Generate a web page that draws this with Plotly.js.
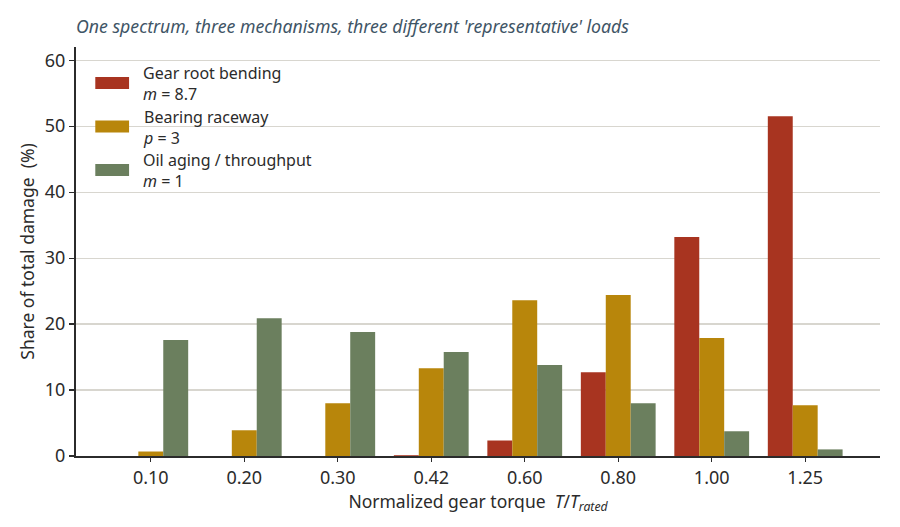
<!DOCTYPE html>
<html>
<head>
<meta charset="utf-8">
<script src="https://cdn.plot.ly/plotly-3.0.1.min.js"></script>
<style>html,body{margin:0;padding:0;background:#fff}#chart{width:900px;height:527px}</style>
</head>
<body>
<div id="chart"></div>
<script>
// Data
const torqueLevels = ['0.10', '0.20', '0.30', '0.42', '0.60', '0.80', '1.00', '1.25'];
const gearRootBending = [0.0, 0.0, 0.0, 0.12, 2.35, 12.7, 33.2, 51.5];
const bearingRaceway = [0.68, 3.9, 8.0, 13.3, 23.6, 24.4, 17.9, 7.7];
const oilAging = [17.6, 20.9, 18.8, 15.75, 13.8, 8.0, 3.75, 1.0];
const seriesNames = ['Gear root bending', 'Bearing raceway', 'Oil aging / throughput'];
const seriesParams = ['<i>m</i> = 8.7', '<i>p</i> = 3', '<i>m</i> = 1'];
const seriesColors = ['#a83420', '#b8860b', '#6b7f5e'];

const FONT = '"Noto Sans", "Open Sans", sans-serif';
const seriesValues = [gearRootBending, bearingRaceway, oilAging];

const traces = seriesValues.map((vals, i) => ({
  type: 'bar',
  x: torqueLevels,
  y: vals,
  name: seriesNames[i],
  marker: {color: seriesColors[i], line: {width: 0}},
  showlegend: false,
  hoverinfo: 'x+y+name'
}));

// Custom legend (wide swatches) in paper coordinates
const shapes = [];
const annotations = [];
const legendTop = 0.912; // paper y of first swatch center
const legendStep = 0.1065;
seriesNames.forEach((nm, i) => {
  const yc = legendTop - i * legendStep;
  shapes.push({
    type: 'rect', xref: 'paper', yref: 'paper',
    x0: 0.024, x1: 0.066, y0: yc - 0.0147, y1: yc + 0.0147,
    fillcolor: seriesColors[i], line: {width: 0}
  });
  annotations.push({
    xref: 'paper', yref: 'paper', x: 0.081, y: yc - 0.002, xanchor: 'left', yanchor: 'middle',
    align: 'left', showarrow: false,
    text: nm + '<br>' + seriesParams[i],
    font: {family: FONT, size: 16, color: '#2b2b2b'}
  });
});

const layout = {
  width: 900, height: 527,
  paper_bgcolor: '#ffffff', plot_bgcolor: '#ffffff',
  margin: {l: 76, r: 20, t: 47, b: 71},
  font: {family: FONT, color: '#2b2b2b', size: 16},
  title: {
    text: "<i>One spectrum, three mechanisms, three different 'representative' loads</i>",
    x: 76 / 900, xanchor: 'left', xref: 'container', y: 1 - 27 / 527, yanchor: 'middle', yref: 'container',
    font: {family: FONT, size: 17.7, color: '#3f5566'}
  },
  barmode: 'group', bargap: 0.2, bargroupgap: 0,
  xaxis: {
    type: 'category', range: [-0.8, 7.8],
    showgrid: false, zeroline: false,
    showline: true, linecolor: '#2b2b2b', linewidth: 2,
    ticks: 'outside', ticklen: 4, tickwidth: 1.2, tickcolor: '#2b2b2b',
    tickfont: {family: FONT, size: 18, color: '#2b2b2b'},
    title: {text: 'Normalized gear torque  <i>T</i>/<i>T</i><sub><i>rated</i></sub>', standoff: 0,
            font: {family: FONT, size: 17.5, color: '#2b2b2b'}}
  },
  yaxis: {
    range: [0, 62], tickvals: [0, 10, 20, 30, 40, 50, 60],
    showgrid: true, gridcolor: '#d8d6cf', gridwidth: 1.2,
    zeroline: false, showline: true, linecolor: '#2b2b2b', linewidth: 2,
    ticks: 'outside', ticklen: 5, tickwidth: 1.2, tickcolor: '#2b2b2b',
    tickfont: {family: FONT, size: 18, color: '#2b2b2b'},
    title: {text: 'Share of total damage  (%)', standoff: 6,
            font: {family: FONT, size: 17.5, color: '#2b2b2b'}}
  },
  shapes: shapes,
  annotations: annotations
};

Plotly.newPlot('chart', traces, layout, {displayModeBar: false, staticPlot: true});
</script>
</body>
</html>
